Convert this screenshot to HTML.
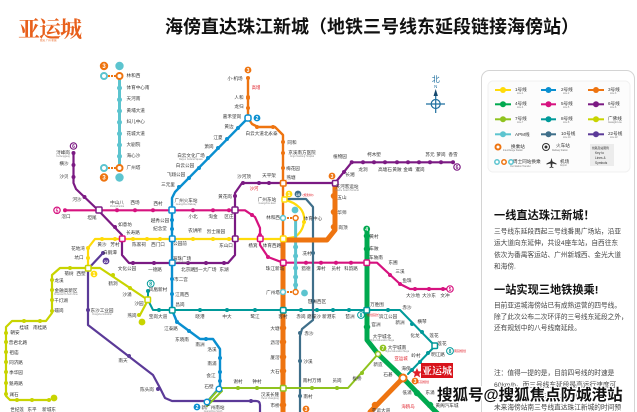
<!DOCTYPE html>
<html><head><meta charset="utf-8"><style>
html,body{margin:0;padding:0;background:#fff}
svg{display:block;font-family:"Liberation Sans","Noto Sans CJK SC",sans-serif;filter:blur(.25px)}
.l{fill:none;stroke-linejoin:round;stroke-linecap:round}
.d{fill:none;stroke-linecap:round}
.t text{font-size:4.6px;fill:#333;text-anchor:middle}
.t text.a{text-anchor:start}
.r text{font-size:4.4px;fill:#e0202a;text-anchor:middle}
.e text{font-size:2.3px;fill:#888;text-anchor:middle}
.x{fill:#fff;stroke-width:1.5}
.b{font-size:6px;fill:#fff;text-anchor:middle;font-weight:bold}
.g text{font-size:4.6px;fill:#333}
.g .s{font-size:2.3px;fill:#777}
.p{font-size:6.7px;fill:#444}
.h{font-size:11.2px;font-weight:bold;fill:#111}
</style></head><body>
<svg width="637" height="412" viewBox="0 0 637 412" xmlns="http://www.w3.org/2000/svg">
<rect width="637" height="412" fill="#fff"/>
<text x="18" y="37" font-size="22" font-weight="bold" fill="#e8601c" style="font-family:'Noto Serif CJK SC',serif" textLength="64">亚运城</text>
<text x="40" y="41" font-size="2.5" fill="#e8601c">亚运 广州·新城</text>
<text x="165" y="33" font-size="18" font-weight="bold" fill="#111">海傍直达珠江新城（地铁三号线东延段链接海傍站）</text>

<!-- compass -->
<g fill="#1f6f9f" stroke="#1f6f9f">
<text x="435.7" y="82" font-size="8" text-anchor="middle" stroke="none">北</text>
<text x="435.7" y="88" font-size="4.5" text-anchor="middle" stroke="none">N</text>
<path d="M435.7 89l-2.2 7h4.4z" stroke="none" fill="#15486e"/>
<path d="M435.7 96v17M426 104h19" fill="none" stroke-width="1.2"/>
<circle cx="435.7" cy="104" r="4.5" fill="none" stroke-width="1.2"/>
</g>

<!-- lines -->
<path class="l" stroke="#7b1a83" stroke-width="2.2" d="M73.5 153V183L76 189 98 210 122 235V255L129 263H228L235 255V193L242 183H335L351.7 162.3H453"/>
<path class="l" stroke="#d6127f" stroke-width="2.2" d="M65 210.3H245L255 217 260 228V245L268 257 283 262.7H377L400 284 410 289H450"/>
<path class="l" stroke="#ffdb0a" stroke-width="2.2" d="M88 270V248L95 239H283L295 237C305 230 307 216 300 208 295 203 290 201 285 200"/>
<path class="l" stroke="#5b3a98" stroke-width="2.2" d="M88 268V325L153 375 160 388 165 398 172 401H256Q260 401 260 405V412M88 269L103 253"/>
<path class="l" stroke="#009a9a" stroke-width="2" d="M148 291V300L153 310H400L435 346 408 374"/>
<path class="l" stroke="#0a8fd0" stroke-width="2.4" d="M248 118L175 192 172 198V310L177 322 200 339H213L220 349V387L207 402"/>
<path class="l" stroke="#3f6f8a" stroke-width="2.2" d="M285 199H306L313 207V320L302 329 300 336V412"/>
<path class="l" stroke="#5cc4cf" stroke-width="3" d="M119.5 76V168M295.6 218V292"/>
<path class="l" stroke="#ee7410" stroke-width="2.4" d="M248 78V118L252 124 258 127H275L283 135V240"/>
<path class="l" stroke="#ee7410" stroke-width="5" stroke-linecap="butt" d="M283 240V412M283 240H327L335 230V183"/>
<path class="l" stroke="#ee7410" stroke-width="5" d="M403 378L370 412"/>
<path class="l" stroke="#8fc31f" stroke-width="2" d="M240 388H220L206 403M207 406L222 391M220 388H348L378 354"/>
<path class="l" stroke="#00a94f" stroke-width="5" d="M367 232V340L378 354 403 378 433 409 440 416"/>
<path class="l" stroke="#c8d400" stroke-width="2.2" d="M140 315L148 300 100 268H60L52 275V313L46 321H12L6 327V396L10 400H50"/>

<!-- dots -->
<path class="d" stroke="#5cc4cf" stroke-width="5" d="M119.5 88h0M119.5 99.7h0M119.5 111h0M119.5 122.3h0M119.5 133.7h0M119.5 145h0M119.5 156.3h0M295.6 247h0M295.6 256h0M295.6 268h0M295.6 277h0M295.6 285h0"/>
<path class="d" stroke="#7b1a83" stroke-width="4" d="M73.5 153h0M73.5 165h0M73.5 177h0M84.5 197h0M115 227h0M259 183h0M269 183h0M243 183h0M351.7 162.3h0M363 162.3h0M374 162.3h0M385 162.3h0M397 162.3h0M408 162.3h0M419 162.3h0M430 162.3h0M441 162.3h0M453 162.3h0M344 172h0M235 196h0M154 263h0M133 263h0M188 263h0M206 263h0M224 263h0"/>
<path class="d" stroke="#d6127f" stroke-width="4" d="M65 210.3h0M117 210.3h0M135 210.3h0M153 210.3h0M193 210.3h0M213 210.3h0M229 210.3h0M252 215h0M260 235h0M268 257h0M306 262.7h0M321 262.7h0M336 262.7h0M351 262.7h0M390 275h0M400 284h0M415 289h0M429 289h0M443 289h0M450 289h0"/>
<path class="d" stroke="#ffdb0a" stroke-width="4" d="M88 248h0M88 258h0M102 239h0M115 239h0M133 239h0M147 239h0M160 239h0M193 239h0M213 239h0M229 239h0M304 222h0"/>
<path class="d" stroke="#0a8fd0" stroke-width="4" d="M238 128h0M227 139h0M218 148h0M208 158h0M199 168h0M189 178h0M179 187h0M172 220h0M172 229h0M172 279h0M172 294h0M177 322h0M189 331h0M206 339h0M220 358h0M220 372h0M220 381h0"/>
<path class="d" stroke="#ee7410" stroke-width="4" d="M248 78h0M248 97h0M248 98h0M248 108h0M257 127h0M273 127h0M283 142h0M283 153h0M283 168h0"/>
<path class="d" stroke="#ee7410" stroke-width="6.5" d="M334 196h0M334 212h0M334 227h0M283 328h0M283 342h0M283 357h0M283 371h0M283 405h0M375 405h0"/>
<path class="d" stroke="#00a94f" stroke-width="6.5" d="M367 236h0M367 249h0M367 327h0M417 393h0M430 405h0"/>
<path class="d" stroke="#009a9a" stroke-width="4" d="M148 291h0M159 310h0M200 310h0M227 310h0M255 310h0M301 310h0M317 310h0M333 310h0M349 310h0M388 310h0M412 324h0M422 332h0M428 353h0M420 362h0M412 370h0"/>
<path class="d" stroke="#3f6f8a" stroke-width="4" d="M313 253h0M313 301h0M300 333h0M300 361h0M300 396h0"/>
<path class="d" stroke="#8fc31f" stroke-width="4" d="M238 388h0M257 388h0M312 388h0M337 388h0M362 373h0"/>
<path class="d" stroke="#5b3a98" stroke-width="4" d="M103 253h0M88 310h0M129 356h0M158 389h0M251 401h0"/>
<path class="d" stroke="#c8d400" stroke-width="4" d="M130 288h0M113 275h0M70 268h0M52 280h0M52 290h0M52 300h0M52 311h0M24 321h0M40 321h0M6 333h0M6 342h0M6 352h0M6 362h0M6 372h0M6 383h0M6 394h0M17 400h0M32 400h0M49 400h0M139 315h0"/>

<!-- interchanges -->
<g class="x">
<rect x="96" y="207" width="6" height="6" rx="1" stroke="#7b1a83"/>
<rect x="169" y="207" width="6" height="6" rx="1" stroke="#0a8fd0"/>
<rect x="232" y="207" width="6" height="6" rx="1" stroke="#7b1a83"/>
<rect x="119.5" y="236" width="5.5" height="5.5" rx="1" stroke="#d6127f"/>
<rect x="169.5" y="236" width="5.5" height="5.5" rx="1" stroke="#0a8fd0"/>
<rect x="232.5" y="236" width="5.5" height="5.5" rx="1" stroke="#7b1a83"/>
<rect x="257.5" y="236" width="5.5" height="5.5" rx="1" stroke="#d6127f"/>
<rect x="280.5" y="236" width="5.5" height="5.5" rx="1" stroke="#ffdb0a"/>
<rect x="169.5" y="260" width="5.5" height="5.5" rx="1" stroke="#0a8fd0"/>
<rect x="169.5" y="307.5" width="5.5" height="5.5" rx="1" stroke="#009a9a"/>
<rect x="280.5" y="260" width="5.5" height="5.5" rx="1" stroke="#d6127f"/>
<rect x="280.5" y="307.5" width="5.5" height="5.5" rx="1" stroke="#009a9a"/>
<rect x="280.5" y="385.5" width="5.5" height="5.5" rx="1" stroke="#8fc31f"/>
<rect x="364" y="260" width="5.5" height="5.5" rx="1" stroke="#d6127f"/>
<rect x="364" y="307.5" width="5.5" height="5.5" rx="1" stroke="#009a9a"/>
<rect x="245" y="115" width="6" height="6" rx="2" stroke="#0a8fd0"/>
<rect x="280.5" y="180.5" width="5.5" height="5.5" rx="1" stroke="#ee7410"/>
<rect x="332.5" y="180.5" width="5.5" height="5.5" rx="1" stroke="#7b1a83"/>
<rect x="85.5" y="265.5" width="5.5" height="5.5" rx="1" stroke="#c8d400"/>
<rect x="145" y="297" width="5.5" height="5.5" rx="1" stroke="#c8d400"/>
<rect x="282" y="197" width="5" height="5" rx="1" stroke="#ffdb0a"/>
<rect x="432" y="343" width="5.5" height="5.5" rx="1" stroke="#009a9a"/>
<circle cx="378" cy="354" r="2.5" stroke="#8fc31f"/>
<circle cx="403" cy="378" r="3.5" stroke="#ee7410" stroke-width="2"/>
<circle cx="219" cy="389" r="2.8" stroke="#0a8fd0"/>
<circle cx="207" cy="402" r="2.8" stroke="#0a8fd0"/>
<circle cx="119.5" cy="76" r="3" stroke="#ee7410" stroke-width="2"/>
<circle cx="104" cy="76" r="3" stroke="#5cc4cf" stroke-width="2"/>
<circle cx="119.5" cy="168" r="3" stroke="#ee7410" stroke-width="2"/>
<circle cx="104" cy="168" r="3" stroke="#5cc4cf" stroke-width="2"/>
<circle cx="295.6" cy="218" r="2.5" stroke="#ee7410"/>
<circle cx="283" cy="218" r="2.5" stroke="#5cc4cf"/>
<circle cx="295.6" cy="292" r="2.5" stroke="#ee7410"/>
<circle cx="283" cy="292" r="2.5" stroke="#5cc4cf"/>
</g>
<path stroke="#ee7410" stroke-width="2" stroke-dasharray="2 1" d="M108 76h8M108 168h8M287 218h6M287 292h6"/>

<!-- badges -->
<g>
<circle cx="104" cy="66" r="4.2" fill="#ee7410"/><text class="b" x="104" y="68.2">3</text>
<circle cx="119.5" cy="66" r="4.2" fill="#5cc4cf"/>
<circle cx="104" cy="177.5" r="4.2" fill="#ee7410"/><text class="b" x="104" y="179.7">3</text>
<circle cx="119.5" cy="177.5" r="4.2" fill="#5cc4cf"/>
<circle cx="73.5" cy="146" r="3.2" fill="#fff" stroke="#7b1a83" stroke-width="1.2"/><text class="b" x="73.5" y="148" style="fill:#7b1a83;font-size:5px">6</text>
<circle cx="57" cy="210.3" r="3.2" fill="#fff" stroke="#d6127f" stroke-width="1.2"/><text class="b" x="57" y="212.3" style="fill:#d6127f;font-size:5px">5</text>
<circle cx="457" cy="167" r="3.2" fill="#fff" stroke="#7b1a83" stroke-width="1.2"/><text class="b" x="457" y="169" style="fill:#7b1a83;font-size:5px">6</text>
<circle cx="450" cy="289" r="3.2" fill="#fff" stroke="#d6127f" stroke-width="1.2"/><text class="b" x="450" y="291" style="fill:#d6127f;font-size:5px">5</text>
<circle cx="248" cy="70" r="3.4" fill="#ee7410"/><text class="b" x="248" y="72" style="font-size:5px">3</text>
<circle cx="257" cy="118" r="3.4" fill="#0a8fd0"/><text class="b" x="257" y="120" style="font-size:5px">2</text>
<circle cx="332" cy="176" r="3.4" fill="#ee7410"/><text class="b" x="332" y="178" style="font-size:5px">3</text>
<circle cx="289" cy="194" r="3.4" fill="#ffdb0a"/><text class="b" x="289" y="196" style="font-size:5px">1</text>
<circle cx="298" cy="194" r="3.4" fill="#3f6f8a"/><text class="b" x="298" y="196" style="font-size:4px">10</text>
<circle cx="295" cy="210" r="3.4" fill="#5cc4cf"/>
<circle cx="304.5" cy="293" r="3.4" fill="#5cc4cf"/>
<circle cx="106" cy="261" r="3.4" fill="#5b3a98"/><text class="b" x="106" y="263" style="font-size:4px">22</text>
<circle cx="94" cy="274" r="3.4" fill="#ffdb0a"/><text class="b" x="94" y="276" style="font-size:5px">1</text>
<circle cx="150.7" cy="283.7" r="3.4" fill="#fff" stroke="#009a9a"/><text class="b" x="150.7" y="285.7" style="fill:#009a9a;font-size:5px">8</text>
<circle cx="142" cy="322" r="3.4" fill="#c8d400"/>
<circle cx="54" cy="398" r="3.4" fill="#c8d400"/>
<circle cx="197" cy="407" r="3.4" fill="#0a8fd0"/><text class="b" x="197" y="409" style="font-size:5px">2</text>
<circle cx="366.7" cy="229" r="3.4" fill="#00a94f"/><text class="b" x="366.7" y="231" style="font-size:5px">4</text>
<circle cx="361" cy="315" r="3.4" fill="#fff" stroke="#009a9a"/><text class="b" x="361" y="317" style="fill:#009a9a;font-size:5px">8</text>
<circle cx="383" cy="348" r="3.4" fill="#8fc31f"/><text class="b" x="383" y="350" style="font-size:5px">7</text>
<circle cx="415" cy="381" r="3.4" fill="#ee7410"/><text class="b" x="415" y="383" style="font-size:5px">3</text>
<circle cx="450" cy="351" r="3.4" fill="#fff" stroke="#009a9a"/><text class="b" x="450" y="353" style="fill:#009a9a;font-size:5px">8</text>
<circle cx="306" cy="409" r="3.4" fill="#ee7410"/><text class="b" x="306" y="411" style="font-size:5px">3</text>
</g>

<!-- station labels -->
<g class="t">
<text class="a" x="126.5" y="77">林和西</text><text class="a" x="126.5" y="89">体育中心南</text><text class="a" x="126.5" y="100">天河南</text><text class="a" x="126.5" y="112">黄埔大道</text><text class="a" x="126.5" y="123">妇儿中心</text><text class="a" x="126.5" y="135">花城大道</text><text class="a" x="126.5" y="146">大剧院</text><text class="a" x="126.5" y="157">海心沙</text><text class="a" x="126.5" y="169">广州塔</text>
<text x="63" y="154">浔峰岗</text><text x="64" y="165">横沙</text><text x="64" y="178">沙贝</text><text x="77" y="201">河沙</text><text x="92" y="219">坦尾</text><text x="125" y="226">如意坊</text><text x="133" y="234">长寿路</text>
<text x="66" y="218">滘口</text><text x="117" y="204">中山八</text><text x="135" y="204">西场</text><text x="158" y="205">西村</text><text x="186" y="202">广州火车站</text><text x="193" y="218">小北</text><text x="213" y="218">淘金</text><text x="229" y="218">区庄</text>
<text x="160" y="222">越秀公园</text><text x="160" y="230">纪念堂</text><text x="168" y="186">三元里</text><text x="176" y="176">飞翔公园</text><text x="185" y="167">白云公园</text><text x="191" y="157">白云文化广场</text><text x="209" y="148">萧岗</text><text x="218" y="139">江夏</text><text x="229" y="128">黄边</text><text x="232" y="118">嘉禾望岗</text>
<text x="235" y="80">小-机场</text><text x="239" y="99">人和</text><text x="239" y="108">龙归</text>
<text x="257" y="135">白云大道北</text><text x="273" y="135">永泰</text><text x="292" y="144">同和</text><text x="302" y="154">京溪南方医院</text><text x="293" y="170">梅花园</text><text x="291" y="179">燕塘</text>
<text x="244" y="178">沙河顶</text><text x="269" y="177">天平架</text><text x="225" y="198">黄花岗</text><text x="267" y="201">广州东站</text><text x="273" y="219">林和西</text><text x="313" y="220">体育中心</text>
<text x="347" y="188">天河客运站</text><text x="342" y="199">五山</text><text x="342" y="214">华师</text><text x="343" y="229">岗顶</text><text x="350" y="176">长湘</text><text x="363" y="171">龙洞</text><text x="340" y="158">植物园</text><text x="374" y="156">柯木塱</text><text x="385" y="171">高塘石</text><text x="397" y="171">黄陂</text><text x="408" y="171">金峰</text><text x="420" y="171">暹岗</text><text x="430" y="156">苏元</text><text x="441" y="156">萝岗</text><text x="453" y="156">香雪</text>
<text x="180" y="245">公园前</text><text x="139" y="246">陈家祠</text><text x="158" y="246">西门口</text><text x="216" y="233">烈士陵园</text><text x="195" y="232">农讲所</text><text x="226" y="247">东山口</text><text x="253" y="247">杨箕</text><text x="272" y="247">体育西路</text>
<text x="102" y="246">黄沙</text><text x="115" y="246">芳村</text><text x="78" y="250">花地湾</text><text x="79" y="259">坑口</text><text x="81" y="275">西塱</text><text x="69" y="275">菊树</text>
<text x="59" y="282">龙溪</text><text x="66" y="292">金融高新区</text><text x="61" y="302">千灯湖</text><text x="59" y="312">礌岗</text><text x="24" y="329">桂城</text><text x="40" y="329">南桂路</text><text x="15" y="334">朝安</text><text x="18" y="344">普君北路</text><text x="14" y="354">祖庙</text><text x="16" y="364">同济路</text><text x="16" y="374">季华园</text><text x="16" y="385">魁奇路</text><text x="14" y="396">澜石</text><text x="17" y="411">世纪莲</text><text x="32" y="411">东平</text><text x="49" y="411">新城东</text>
<text x="127" y="270">文化公园</text><text x="155" y="271">一德路</text><text x="182" y="260">海珠广场</text><text x="188" y="271">北京路</text><text x="205" y="271">团一大广场</text><text x="224" y="271">东湖</text><text x="181" y="281">市二宫</text><text x="182" y="296">江南西</text><text x="180" y="306">昌岗</text>
<text x="113" y="285">鹤洞</text><text x="127" y="296">沙涌</text><text x="139" y="305">沙园</text><text x="132" y="317">燕岗</text><text x="158" y="318">宝岗大道</text><text x="158" y="291">凤凰新村</text><text x="110" y="254">白鹅潭</text>
<text x="200" y="318">晓港</text><text x="227" y="318">中大</text><text x="255" y="318">鹭江</text><text x="283" y="318">客村</text><text x="301" y="318">赤岗</text><text x="314" y="318">磨碟沙</text><text x="329" y="318">新港东</text><text x="350" y="318">琶洲</text><text x="377" y="306">万胜围</text>
<text x="273" y="294">广州塔</text><text x="275" y="330">大塘</text><text x="275" y="344">沥滘</text><text x="275" y="359">厦滘</text><text x="275" y="373">大石</text><text x="270" y="396">汉溪长隆</text><text x="275" y="407">市桥</text>
<text x="307" y="255">冼村</text><text x="317" y="303">琶洲西区</text><text x="309" y="335">赤沙</text><text x="308" y="363">沙溪</text><text x="312" y="382">南村万博</text><text x="308" y="398">南村</text>
<text x="171" y="330">江泰路</text><text x="182" y="341">东晓南</text><text x="200" y="346">南洲</text><text x="212" y="351">洛溪</text><text x="212" y="365">南浦</text><text x="211" y="377">会江</text><text x="209" y="388">石壁</text><text x="213" y="409">新广州南站</text>
<text x="102" y="312">东沙工业园</text><text x="123" y="362">南天</text><text x="147" y="391">陈头岗</text>
<text x="238" y="383">谢村</text><text x="257" y="383">钟村</text><text x="337" y="382">员岗</text><text x="357" y="380">板桥</text>
<text x="275" y="270">珠江新城</text><text x="306" y="270">猎德</text><text x="321" y="270">潭村</text><text x="336" y="270">员村</text><text x="351" y="270">科韵路</text>
<text x="374" y="238">黄村</text><text x="374" y="250">车陂</text><text x="376" y="259">车陂南</text><text x="393" y="264">东圃</text><text x="400" y="273">三溪</text><text x="407" y="282">鱼珠</text><text x="413" y="297">大沙地</text><text x="429" y="297">大沙东</text><text x="445" y="297">文冲</text>
<text x="376" y="326">官洲</text><text x="382" y="338">大学城北</text><text x="397" y="349">大学城南</text><text x="378" y="366">新造</text><text x="388" y="376">石碁</text><text x="406" y="370">海傍</text><text x="407" y="394">低涌</text><text x="430" y="394">东涌</text><text x="447" y="407">黄阁汽车城</text>
<text x="407" y="309">赤沙</text><text x="388" y="318">滨江公园</text><text x="400" y="324">新洲</text><text x="422" y="323">横琴</text><text x="415" y="337">化龙</text><text x="434" y="337">莲花</text><text x="442" y="345">莲花</text><text x="438" y="356">明江路</text><text x="416" y="357">岭村</text><text x="381" y="412">亚运大道</text>
</g>
<g class="r">
<text x="256" y="89">高增</text><text x="254" y="190">沙河</text><text x="308" y="196" style="font-size:3px">(规划中)</text><text x="401" y="360">亚运城</text><text x="373" y="316" style="font-size:3px">规划延长</text><text x="408" y="408">海鸥岛</text><text x="423" y="383" style="font-size:3px">东延规划</text><text x="460" y="352" style="font-size:3px">南延规划</text>
</g>
<g class="e">
<text x="63" y="157">Xunfenggang</text><text x="117" y="207">Zhongshanba</text><text x="186" y="205">Guangzhou Railway</text><text x="191" y="160">Baiyun Cultural Square</text><text x="347" y="191">Tianhe Coach Terminal</text><text x="302" y="157">Jingxi Nanfang Hospital</text><text x="267" y="204">Guangzhou East</text><text x="102" y="315">Dongsha Industrial</text><text x="66" y="295">Financial Hi-Tech Zone</text><text x="182" y="263">Haizhu Square</text><text x="382" y="341">Higher Education Mega</text><text x="397" y="352">Higher Education Mega</text><text x="270" y="399">Hanxi Changlong</text><text x="213" y="412">Guangzhou South</text>
</g>

<!-- stamp -->
<path fill="#e0202a" d="M417 368l1.4 3.3 3.5.3-2.7 2.3.9 3.5-3.100-1.900-3.100 1.900.9-3.500-2.700-2.300 3.500-.3z"/>
<rect x="421" y="363" width="32" height="15" fill="#d8131b"/>
<text x="437" y="374.5" font-size="10" font-weight="bold" fill="#fff" text-anchor="middle" style="font-family:'Noto Serif CJK SC',serif">亚运城</text>

<!-- panel -->
<rect x="481.5" y="70.5" width="153" height="360" rx="8" fill="#fff" stroke="#d4d4d4"/>
<rect x="488" y="81" width="142" height="91" rx="5" fill="#fcfcfc" stroke="#f1f1f1"/>
<g stroke-width="2" fill="none">
<path stroke="#ffdb0a" d="M495 90h16"/><path stroke="#0a8fd0" d="M541 90h15"/><path stroke="#ee7410" d="M588 90h16"/>
<path stroke="#00a94f" d="M495 104.3h16"/><path stroke="#d6127f" d="M541 104.3h15"/><path stroke="#7b1a83" d="M588 104.3h16"/>
<path stroke="#8fc31f" d="M495 119.3h16"/><path stroke="#009a9a" d="M541 119.3h15"/><path stroke="#c8d400" d="M588 119.3h16"/>
<path stroke="#5cc4cf" d="M495 134.3h16"/><path stroke="#3f6f8a" d="M541 134.3h15"/><path stroke="#5b3a98" d="M588 134.3h16"/>
</g>
<g>
<circle cx="503" cy="90" r="3" fill="#ffdb0a"/><circle cx="548.5" cy="90" r="3" fill="#0a8fd0"/><circle cx="596" cy="90" r="3" fill="#ee7410"/>
<circle cx="503" cy="104.3" r="3" fill="#00a94f"/><circle cx="548.5" cy="104.3" r="3" fill="#d6127f"/><circle cx="596" cy="104.3" r="3" fill="#7b1a83"/>
<circle cx="503" cy="119.3" r="3" fill="#8fc31f"/><circle cx="548.5" cy="119.3" r="3" fill="#009a9a"/><circle cx="596" cy="119.3" r="3" fill="#c8d400"/>
<circle cx="503" cy="134.3" r="3" fill="#5cc4cf"/><circle cx="548.5" cy="134.3" r="3" fill="#3f6f8a"/><circle cx="596" cy="134.3" r="3" fill="#5b3a98"/>
</g>
<g class="g">
<text x="515" y="91">1号线</text><text class="s" x="517" y="94">Line 1</text><text x="561" y="91">2号线</text><text class="s" x="563" y="94">Line 2</text><text x="608" y="91">3号线</text><text class="s" x="610" y="94">Line 3</text>
<text x="515" y="105">4号线</text><text class="s" x="517" y="108">Line 4</text><text x="561" y="105">5号线</text><text class="s" x="563" y="108">Line 5</text><text x="608" y="105">6号线</text><text class="s" x="610" y="108">Line 6</text>
<text x="515" y="120">7号线</text><text class="s" x="517" y="123">Line 7</text><text x="561" y="120">8号线</text><text class="s" x="563" y="123">Line 8</text><text x="608" y="120">广佛线</text><text class="s" x="608" y="123">Guangfo Line</text>
<text x="515" y="136">APM线</text><text x="561" y="135">10号线</text><text class="s" x="563" y="138">Line 10</text><text x="608" y="135">22号线</text><text class="s" x="610" y="138">Line 22</text>
<text x="511" y="148">换乘站</text><text class="s" x="503" y="151">Interchange Station</text><text x="556" y="147">火车站</text><text class="s" x="552" y="151">Railway Station</text>
<text x="513" y="163">周士同站换乘</text><text class="s" x="510" y="167">Out-Station Transfer</text><text x="560" y="163">机场</text><text class="s" x="560" y="166">Airport</text>
</g>
<circle cx="498" cy="147" r="2.5" fill="#fff" stroke="#ee7410" stroke-width="2"/>
<circle cx="546" cy="147" r="3.5" fill="#fff" stroke="#333"/><circle cx="546" cy="147" r="1.5" fill="#333"/>
<circle cx="497" cy="162" r="2.2" fill="#fff" stroke="#5cc4cf" stroke-width="1.5"/><circle cx="504" cy="162" r="2.2" fill="#fff" stroke="#ee7410" stroke-width="1.5"/><circle cx="511" cy="162" r="2.2" fill="#fff" stroke="#5cc4cf" stroke-width="1.5"/>
<path fill="#333" d="M551.5 158l1 3.500 4 2v1l-4-1-.5 3 1.500 1v.6l-2-.6-2 .6v-.6l1.500-1-.5-3-4 1v-1l4-2z"/>
<rect x="590" y="144" width="24" height="22" fill="#ececec"/>
<g font-size="3.2" fill="#333">
<text x="592" y="149" font-size="2.8">线路及站图例</text><text x="595" y="154">Key to</text><text x="595" y="159">Lines &amp;</text><text x="595" y="164">Symbols</text>
</g>

<text class="h" x="494" y="219">一线直达珠江新城！</text>
<g class="p">
<text x="494" y="233.5">三号线东延段西起三号线番禺广场站，沿亚</text>
<text x="494" y="245">运大道向东延伸，共设4座车站，自西往东</text>
<text x="494" y="257">依次为番禺客运站、广州新城西、金光大道</text>
<text x="494" y="268.5">和海傍.</text>
</g>
<text class="h" x="494" y="293.5">一站实现三地铁换乘!</text>
<g class="p">
<text x="494" y="307.5">目前亚运城海傍站已有成熟运营的四号线。</text>
<text x="494" y="319">除了此次公布二次环评的三号线东延段之外，</text>
<text x="494" y="330">还有规划中的八号线南延段。</text>
<text x="494" y="375">注：值得一提的是，目前四号线的时速是</text>
<text x="494" y="387">60km/h。而三号线东延段最高运行速度可</text>
<text x="494" y="398">达120km/h，到珠江新城只需约二十分钟，</text>
<text x="494" y="409.5">未来海傍站南三号线直达珠江新城的时间预</text>
</g>
<text x="437" y="400" font-size="15.5" font-weight="bold" fill="#111" stroke="#fff" stroke-width="2.5" style="paint-order:stroke">搜狐号@搜狐焦点防城港站</text>
</svg>
</body></html>
